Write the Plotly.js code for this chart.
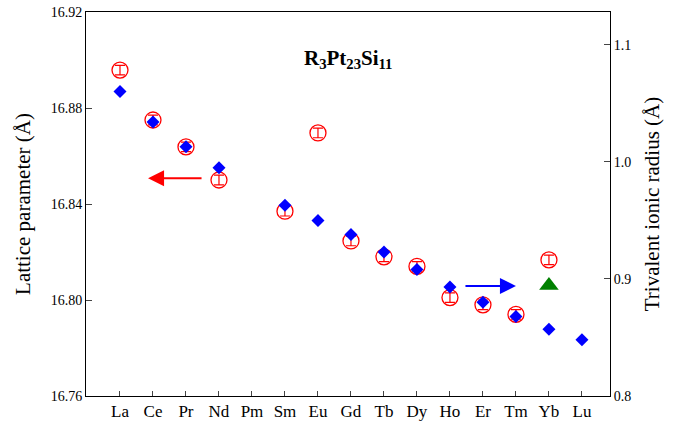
<!DOCTYPE html>
<html>
<head>
<script src="https://cdn.plot.ly/plotly-3.0.1.min.js"></script>
<style>body{margin:0}</style>
</head>
<body>
<div id="myPlot" style="width:678px;height:436px"></div>
<script>
// rare earth elements on the x axis
var elements = ['La', 'Ce', 'Pr', 'Nd', 'Pm', 'Sm', 'Eu', 'Gd', 'Tb', 'Dy', 'Ho', 'Er', 'Tm', 'Yb', 'Lu']

// lattice parameter (left axis)
var latElems = ['La', 'Ce', 'Pr', 'Nd', 'Sm', 'Eu', 'Gd', 'Tb', 'Dy', 'Ho', 'Er', 'Tm', 'Yb']
var latValues = [16.8958, 16.875, 16.8638, 16.850, 16.837, 16.8696, 16.8246, 16.818, 16.814, 16.801, 16.798, 16.794, 16.8167]
var latErr = [0.002, 0.002, 0.002, 0.002, 0.002, 0.002, 0.002, 0.002, 0.002, 0.002, 0.002, 0.002, 0.002]

// trivalent ionic radius (right axis)
var radElems = ['La', 'Ce', 'Pr', 'Nd', 'Sm', 'Eu', 'Gd', 'Tb', 'Dy', 'Ho', 'Er', 'Tm', 'Yb', 'Lu']
var radValues = [1.060, 1.034, 1.013, 0.995, 0.963, 0.950, 0.938, 0.923, 0.908, 0.893, 0.880, 0.868, 0.857, 0.848]

// extra Yb point
var triElems = ['Yb']
var triValues = [16.806]

var font = 'Liberation Serif, Times New Roman, serif'

var traceLat = {
    x: latElems.map(function (e) { return elements.indexOf(e) }),
    y: latValues,
    error_y: {type: 'data', array: latErr, color: 'red', thickness: 1.2, width: 5},
    mode: 'markers',
    type: 'scatter',
    marker: {symbol: 'circle-open', size: 16, color: 'red', line: {width: 1.3}}
}

var traceRad = {
    x: radElems.map(function (e) { return elements.indexOf(e) }),
    y: radValues,
    yaxis: 'y2',
    mode: 'markers',
    type: 'scatter',
    marker: {symbol: 'diamond', size: 10, color: 'blue'}
}

var traceTri = {
    x: triElems.map(function (e) { return elements.indexOf(e) }),
    y: triValues,
    mode: 'markers',
    type: 'scatter',
    marker: {symbol: 'triangle-up', size: 17, color: 'green'}
}

var layout = {
    width: 678,
    height: 436,
    showlegend: false,
    margin: {l: 86, r: 68, t: 12, b: 40},
    plot_bgcolor: 'white',
    paper_bgcolor: 'white',
    font: {family: font, size: 16, color: 'black'},
    xaxis: {
        range: [-1.03, 14.85],
        tickvals: elements.map(function (e, i) { return i }),
        ticktext: elements,
        showgrid: false, zeroline: false,
        showline: true, mirror: true, linecolor: 'black', linewidth: 1,
        ticks: 'inside', ticklen: 5, tickfont: {size: 17}
    },
    yaxis: {
        range: [16.76, 16.92],
        tickvals: [16.76, 16.80, 16.84, 16.88, 16.92],
        ticktext: ['16.76', '16.80', '16.84', '16.88', '16.92'],
        title: {text: 'Lattice parameter (Å)', font: {size: 21}, standoff: 14},
        showgrid: false, zeroline: false,
        showline: true, linecolor: 'black', linewidth: 1,
        ticks: 'inside', ticklen: 6, tickfont: {size: 14}
    },
    yaxis2: {
        overlaying: 'y',
        side: 'right',
        range: [0.8, 1.128],
        tickvals: [0.8, 0.9, 1.0, 1.1],
        ticktext: ['0.8', '0.9', '1.0', '1.1'],
        title: {text: 'Trivalent ionic radius (Å)', font: {size: 21}, standoff: 14},
        showgrid: false, zeroline: false,
        showline: true, linecolor: 'black', linewidth: 1,
        ticks: 'inside', ticklen: 6, tickfont: {size: 14}
    },
    annotations: [
        {x: 0.85, y: 16.8507, xref: 'x', yref: 'y', ax: 55, ay: 0,
         showarrow: true, arrowhead: 2, arrowsize: 1.6, arrowwidth: 2, arrowcolor: 'red', text: ''},
        {x: 12.0, y: 0.894, xref: 'x', yref: 'y2', ax: -52, ay: 0,
         showarrow: true, arrowhead: 2, arrowsize: 1.6, arrowwidth: 2, arrowcolor: 'blue', text: ''},
        {x: 6.9, y: 16.9005, xref: 'x', yref: 'y', showarrow: false,
         text: '<b>R<sub>3</sub>Pt<sub>23</sub>Si<sub>11</sub></b>', font: {size: 21}}
    ]
}

Plotly.newPlot('myPlot', [traceLat, traceRad, traceTri], layout, {displayModeBar: false})
</script>
</body>
</html>
